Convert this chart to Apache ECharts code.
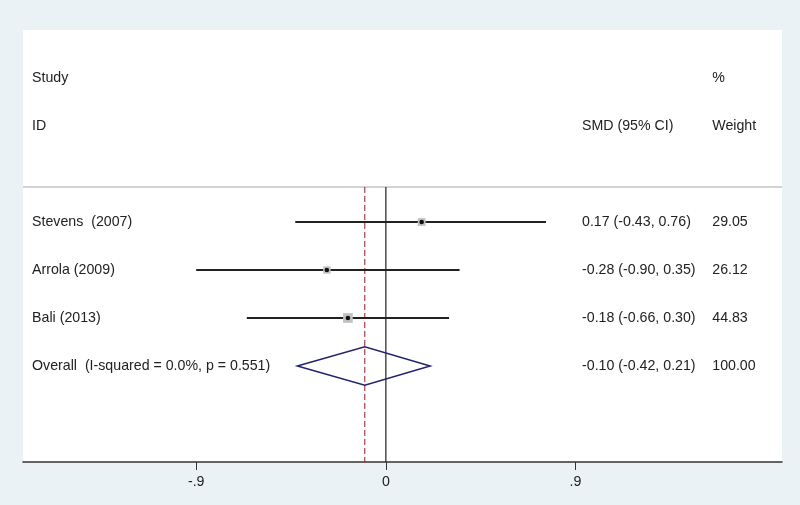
<!DOCTYPE html>
<html>
<head>
<meta charset="utf-8">
<script src="https://cdn.jsdelivr.net/npm/echarts@6/dist/echarts.min.js"></script>
<style>
  html, body { margin: 0; padding: 0; background: #eaf2f6; }
  #chart { width: 800px; height: 505px; }
</style>
</head>
<body>
<div id="chart"></div>
<script>
  // study rows
  var studies = ['Stevens  (2007)', 'Arrola (2009)', 'Bali (2013)'];
  var smd = [0.17, -0.28, -0.18];
  var lower = [-0.43, -0.90, -0.66];
  var upper = [0.76, 0.35, 0.30];
  var weights = [29.05, 26.12, 44.83];

  // pooled estimate
  var overallLabel = 'Overall  (I-squared = 0.0%, p = 0.551)';
  var overallEst = -0.10;
  var overallLo = -0.42;
  var overallHi = 0.21;
  var overallWeight = 100.00;

  var xTicks = [-0.9, 0, 0.9];
  var xTickLabels = ['-.9', '0', '.9'];

  // row positions on the (inverted) y axis
  var headRow1 = 1, headRow2 = 2, sepRow = 3.27, firstRow = 4;
  var overallRow = firstRow + studies.length;
  var xMin = -1.722, xMax = 1.88;
  var colLabel = -1.679, colStat = 0.931, colWeight = 1.549;

  var FONT = '"Liberation Sans", Arial, sans-serif';
  var FSIZE = 14.2;

  function fmt(v) { return v.toFixed(2); }
  function ciText(e, l, h) { return fmt(e) + ' (' + fmt(l) + ', ' + fmt(h) + ')'; }

  // all text cells: [x, row, text]
  var cells = [
    [colLabel, headRow1, 'Study'],
    [colWeight, headRow1, '%'],
    [colLabel, headRow2, 'ID'],
    [colStat, headRow2, 'SMD (95% CI)'],
    [colWeight, headRow2, 'Weight']
  ];
  studies.forEach(function (s, i) {
    var r = firstRow + i;
    cells.push([colLabel, r, s]);
    cells.push([colStat, r, ciText(smd[i], lower[i], upper[i])]);
    cells.push([colWeight, r, fmt(weights[i])]);
  });
  cells.push([colLabel, overallRow, overallLabel]);
  cells.push([colStat, overallRow, ciText(overallEst, overallLo, overallHi)]);
  cells.push([colWeight, overallRow, fmt(overallWeight)]);

  var chart = echarts.init(document.getElementById('chart'));
  chart.setOption({
    animation: false,
    backgroundColor: '#eaf2f6',
    grid: {
      left: 23, right: 18, top: 30, bottom: 43,
      show: true, backgroundColor: '#ffffff', borderWidth: 0
    },
    xAxis: {
      type: 'value', min: xMin, max: xMax, position: 'bottom',
      splitLine: { show: false },
      axisLine: { show: true, onZero: false, lineStyle: { color: '#333', width: 1.5 } },
      axisTick: { show: true, length: 8, customValues: xTicks, lineStyle: { color: '#333' } },
      axisLabel: {
        customValues: xTicks, margin: 13,
        color: '#222', fontSize: FSIZE, fontFamily: FONT,
        formatter: function (v) {
          for (var i = 0; i < xTicks.length; i++) {
            if (Math.abs(v - xTicks[i]) < 1e-6) return xTickLabels[i];
          }
          return '';
        }
      }
    },
    yAxis: {
      type: 'value', min: 0, max: 9, inverse: true, show: false,
      splitLine: { show: false }
    },
    series: [
      {
        // header separator, null line and pooled-estimate line
        type: 'custom',
        data: [0],
        silent: true,
        renderItem: function (params, api) {
          var a = api.coord([xMin, sepRow]), b = api.coord([xMax, sepRow]);
          var z0 = api.coord([0, sepRow]), z1 = api.coord([0, 9]);
          var d0 = api.coord([overallEst, sepRow]), d1 = api.coord([overallEst, 9]);
          return {
            type: 'group',
            children: [
              { type: 'line', shape: { x1: a[0], y1: a[1], x2: b[0], y2: b[1] },
                style: { stroke: '#c4c4c4', lineWidth: 1.5 } },
              { type: 'line', shape: { x1: z0[0], y1: z0[1], x2: z1[0], y2: z1[1] },
                style: { stroke: '#222', lineWidth: 1.2 } },
              { type: 'line', shape: { x1: d0[0], y1: d0[1], x2: d1[0], y2: d1[1] },
                style: { stroke: '#8e1c24', lineWidth: 1, lineDash: [6, 3] } }
            ]
          };
        }
      },
      {
        // confidence intervals with weight boxes
        type: 'custom',
        data: smd.map(function (v, i) { return [v, firstRow + i, lower[i], upper[i], weights[i]]; }),
        silent: true,
        renderItem: function (params, api) {
          var y = api.value(1);
          var p = api.coord([api.value(0), y]);
          var l = api.coord([api.value(2), y]);
          var h = api.coord([api.value(3), y]);
          var s = 1.45 * Math.sqrt(api.value(4));
          return {
            type: 'group',
            children: [
              { type: 'line', shape: { x1: l[0], y1: l[1], x2: h[0], y2: h[1] },
                style: { stroke: '#222', lineWidth: 1.8 } },
              { type: 'rect', shape: { x: p[0] - s / 2, y: p[1] - s / 2, width: s, height: s },
                style: { fill: '#c2c2c2' } },
              { type: 'circle', shape: { cx: p[0], cy: p[1], r: 2.3 },
                style: { fill: '#111' } }
            ]
          };
        }
      },
      {
        // pooled diamond
        type: 'custom',
        data: [[overallEst, overallRow, overallLo, overallHi]],
        silent: true,
        renderItem: function (params, api) {
          var y = api.value(1);
          var c = api.coord([api.value(0), y]);
          var l = api.coord([api.value(2), y]);
          var h = api.coord([api.value(3), y]);
          var t = api.coord([api.value(0), y - 0.4]);
          var b = api.coord([api.value(0), y + 0.4]);
          return {
            type: 'polygon',
            shape: { points: [[l[0], c[1]], [t[0], t[1]], [h[0], c[1]], [b[0], b[1]]] },
            style: { fill: 'none', stroke: '#22226e', lineWidth: 1.5 }
          };
        }
      },
      {
        // text columns
        type: 'custom',
        data: cells.map(function (c, i) { return [c[0], c[1], i]; }),
        silent: true,
        renderItem: function (params, api) {
          var p = api.coord([api.value(0), api.value(1)]);
          return {
            type: 'text',
            x: p[0], y: p[1],
            style: {
              text: cells[params.dataIndex][2],
              fill: '#222', fontSize: FSIZE, fontFamily: FONT,
              align: 'left', verticalAlign: 'middle'
            }
          };
        }
      }
    ]
  });
</script>
</body>
</html>
